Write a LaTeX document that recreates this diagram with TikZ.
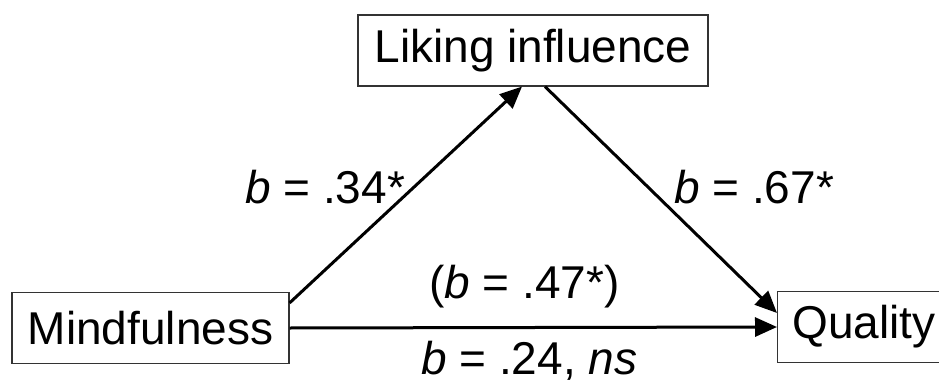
\documentclass[tikz,border=0pt]{standalone}
\usepackage{fontspec}
\setmainfont{Liberation Sans}
\usetikzlibrary{arrows.meta}
\begin{document}
\begin{tikzpicture}[x=1pt,y=1pt,
  box/.style={draw=black!80, line width=1.1pt, minimum height=71pt, inner sep=0pt, font=\fontsize{46}{50}\selectfont},
  lbl/.style={anchor=base west, inner sep=0pt, font=\fontsize{46}{50}\selectfont},
  conn/.style={line width=3pt, -{Triangle[length=22pt,width=19pt]}}]
\useasboundingbox (0,0) rectangle (939,381);
\begin{scope}
\clip (0,0) rectangle (939,381);
\node[box, minimum width=350pt] (l) at (533,330.5) {Liking influence};
\node[box, minimum width=277pt] (m) at (150.5,53) {Mindfulness};
\node[box, anchor=west, text width=170pt, align=left, inner xsep=15pt] (q) at (777,54) {Quality};
\draw[conn] ([yshift=-11pt]m.north east) -- ([xshift=-11pt]l.south);
\draw[conn] ([xshift=12pt]l.south) -- ([yshift=14pt]q.west);
\draw[conn] (m.east) -- (q.west);
\node[lbl] (b1) at (245,178) {\textit{b} = .34*};
\node[lbl] (b2) at (674,178) {\textit{b} = .67*};
\node[lbl] (b3) at (429,83) {(\textit{b} = .47*)};
\node[lbl] (b4) at (421,7) {\textit{b} = .24, \textit{ns}};
\end{scope}
\end{tikzpicture}
\end{document}
